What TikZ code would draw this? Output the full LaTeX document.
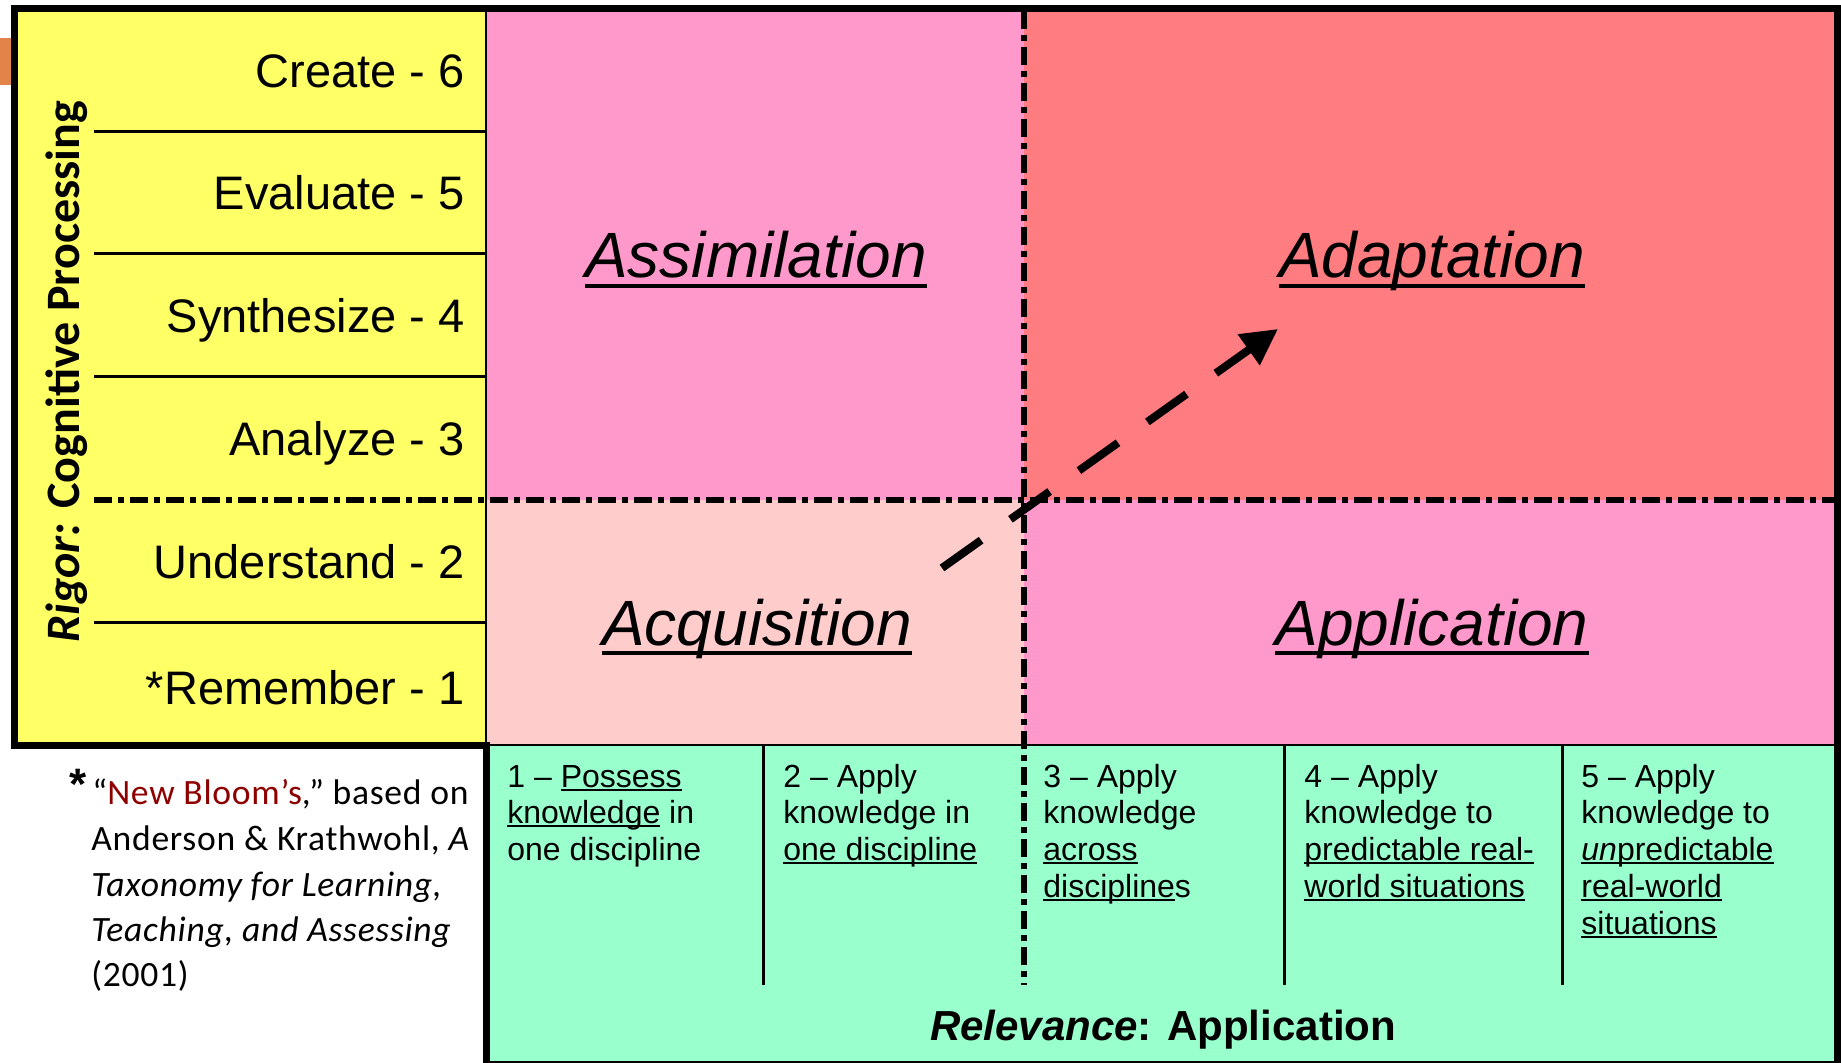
\documentclass[tikz,border=0pt]{standalone}
\usepackage{fontspec}
\setmainfont{Liberation Sans}
\newfontfamily\calibri{Carlito}
\newfontfamily\calibrils[LetterSpace=2]{Carlito}
\usetikzlibrary{arrows.meta}
\definecolor{qyellow}{HTML}{FFFF66}
\definecolor{qpink}{HTML}{FF99CC}
\definecolor{qsalmon}{HTML}{FF7C80}
\definecolor{qlight}{HTML}{FFCCCC}
\definecolor{qgreen}{HTML}{99FFCC}
\definecolor{qorange}{HTML}{E2844A}
\definecolor{bloomred}{HTML}{8E0000}
\newcommand{\undl}[3]{\setbox0\hbox{#3}\rlap{\rule[\dimexpr-#1-#2\relax]{\wd0}{#2}}\box0\relax}
\newcommand{\gul}[1]{\undl{1.2pt}{1pt}{#1}}
\newcommand{\qul}[1]{\undl{3pt}{2pt}{#1}}
\tikzset{
  ylab/.style={anchor=base east, inner sep=0pt, font=\fontsize{23.5}{28}\selectfont},
  qlab/.style={anchor=base, inner sep=0pt, font=\fontsize{32}{38}\selectfont\itshape},
  ctext/.style={anchor=base west, inner sep=0pt, font=\fontsize{16}{19}\selectfont},
  ftext/.style={anchor=base west, inner sep=0pt, font=\calibrils\fontsize{17.8}{21}\selectfont},
  border/.style={line width=3.5pt, line join=miter},
  thinline/.style={line width=1pt},
  rowline/.style={line width=1.5pt},
  ddline/.style={line width=3pt, dash pattern=on 9pt off 3pt on 3pt off 3pt},
  arrowline/.style={line width=4pt, dash pattern=on 24pt off 18pt, -{Triangle[length=18pt,width=18pt]}},
}
\begin{document}
\begin{tikzpicture}[x=0.5pt,y=-0.5pt]
\useasboundingbox (0,0) rectangle (1841,1063);
\fill[white] (0,0) rectangle (1841,1063);
% fills
\fill[qorange] (0,38) rectangle (12,85);
\fill[qyellow] (14,9) rectangle (486,745);
\fill[qpink] (486,9) rectangle (1024,500);
\fill[qsalmon] (1024,9) rectangle (1838,500);
\fill[qlight] (486,500) rectangle (1024,745);
\fill[qpink] (1024,500) rectangle (1838,745);
\fill[qgreen] (486,745) rectangle (1838,1063);
% yellow rows
\foreach \yy in {132,254,377,622} \draw[rowline] (94,\yy) -- (486,\yy);
% dash-dot axes
\draw[ddline] (94,500) -- (1836,500);
\draw[ddline] (1024,11) -- (1024,985);
% thin separators
\draw[thinline] (486,9) -- (486,745);
\draw[line width=1.25pt] (486,745) -- (1838,745);
\draw[thinline] (486,1062) -- (1841,1062);
% column lines
\foreach \xx in {763,1284,1562} \draw[rowline] (\xx,745) -- (\xx,985);
% outer border
\draw[border] (486,1063) -- (486,745) -- (14.5,745) -- (14.5,9) -- (1837.5,9) -- (1837.5,1063);
% yellow labels
\node[ylab] (l6) at (465,88) {Create - 6};
\node[ylab] (l5) at (465,210) {Evaluate - 5};
\node[ylab] (l4) at (465,333) {Synthesize - 4};
\node[ylab] (l3) at (465,456) {Analyze - 3};
\node[ylab] (l2) at (465,579) {Understand - 2};
\node[ylab] (l1) at (465,704) {*Remember - 1};
\node[anchor=base west, inner sep=0pt, rotate=90, font=\calibri\bfseries\fontsize{24}{28}\selectfont] (rigor) at (79,643) {{\itshape Rigor:} Cognitive Processing};
% quadrant labels
\node[qlab] (assim) at (756,278) {\qul{Assimilation}};
\node[qlab] (adapt) at (1432,278) {\qul{Adaptation}};
\node[qlab] (acq) at (757,645) {\qul{Acquisition}};
\node[qlab] (appl) at (1432,645) {\qul{Application}};
% arrow
\coordinate (arrS) at (942,568);
\coordinate (arrE) at (1278,329);
\draw[arrowline] (arrS) -- (arrE);
% column texts
\node[ctext] (c1a) at (507,787) {1 -- \gul{Possess}};
\node[ctext] (c1b) at (507,823) {\gul{knowledge} in};
\node[ctext] (c1c) at (507,860) {one discipline};
\node[ctext] (c2a) at (783,787) {2 -- Apply};
\node[ctext] (c2b) at (783,823) {knowledge in};
\node[ctext] (c2c) at (783,860) {\gul{one discipline}};
\node[ctext] (c3a) at (1043,787) {3 -- Apply};
\node[ctext] (c3b) at (1043,823) {knowledge};
\node[ctext] (c3c) at (1043,860) {\gul{across}};
\node[ctext] (c3d) at (1043,897) {\gul{discipline}s};
\node[ctext] (c4a) at (1304,787) {4 -- Apply};
\node[ctext] (c4b) at (1304,823) {knowledge to};
\node[ctext] (c4c) at (1304,860) {\gul{predictable real-}};
\node[ctext] (c4d) at (1304,897) {\gul{world situations}};
\node[ctext] (c5a) at (1581,787) {5 -- Apply};
\node[ctext] (c5b) at (1581,823) {knowledge to};
\node[ctext] (c5c) at (1581,860) {\gul{\textit{un}predictable}};
\node[ctext] (c5d) at (1581,897) {\gul{real-world}};
\node[ctext] (c5e) at (1581,934) {\gul{situations}};
\node[anchor=base, inner sep=0pt, font=\bfseries\fontsize{21}{25}\selectfont] (relev) at (1163,1040) {{\itshape Relevance}: Application};
% footnote
\node[anchor=north, inner sep=0pt, font=\bfseries\fontsize{22}{26}\selectfont] (star) at (78.5,769) {*};
\node[ftext] (f1) at (92,804) {“{\color{bloomred}New Bloom’s},” based on};
\node[ftext] (f2) at (91,850) {Anderson \& Krathwohl, \textit{A}};
\node[ftext] (f3) at (91,896) {\textit{Taxonomy for Learning,}};
\node[ftext] (f4) at (91,941) {\textit{Teaching, and Assessing}};
\node[ftext] (f5) at (91,986) {(2001)};
\end{tikzpicture}
\end{document}
